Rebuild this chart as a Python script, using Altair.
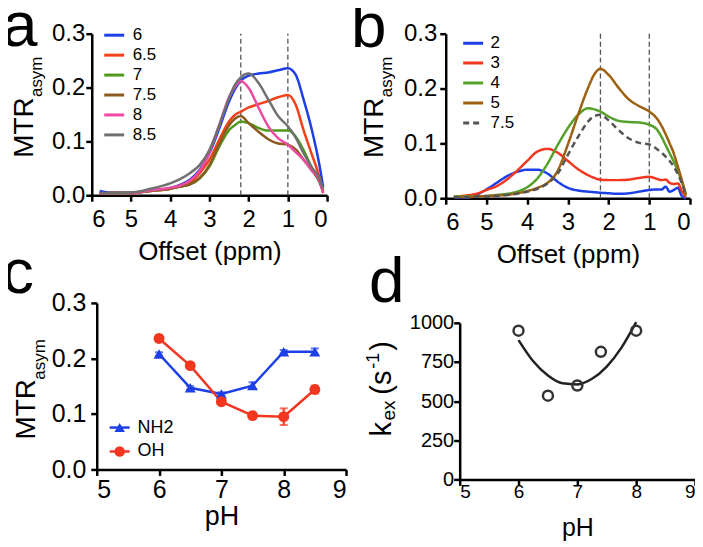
import altair as alt
import pandas as pd

FONT = "Liberation Sans"

# ---------------- Panel a ----------------
offset_a = [5.8, 5.5, 5.0, 4.5, 4.0, 3.75, 3.5, 3.25, 3.0, 2.75, 2.5, 2.35, 2.2, 2.0,
            1.75, 1.5, 1.25, 1.0, 0.8, 0.6, 0.4, 0.2, 0.1]
ph_a = ["6", "6.5", "7", "7.5", "8", "8.5"]
a_ph6 = [0.008, 0.005, 0.005, 0.009, 0.013, 0.019, 0.029, 0.047, 0.078, 0.124, 0.174, 0.197,
         0.213, 0.222, 0.226, 0.228, 0.232, 0.236, 0.224, 0.178, 0.125, 0.058, 0.015]
a_ph65 = [0.003, 0.004, 0.004, 0.008, 0.012, 0.016, 0.022, 0.041, 0.066, 0.103, 0.137, 0.149,
          0.155, 0.163, 0.169, 0.175, 0.182, 0.186, 0.168, 0.121, 0.078, 0.035, 0.004]
a_ph7 = [0.003, 0.004, 0.004, 0.008, 0.012, 0.016, 0.020, 0.031, 0.053, 0.090, 0.121, 0.130,
         0.137, 0.134, 0.125, 0.120, 0.120, 0.120, 0.109, 0.084, 0.053, 0.025, 0.008]
a_ph75 = [0.003, 0.004, 0.004, 0.008, 0.012, 0.016, 0.020, 0.032, 0.056, 0.095, 0.130, 0.142,
          0.147, 0.134, 0.118, 0.104, 0.096, 0.094, 0.085, 0.066, 0.047, 0.026, 0.006]
a_ph8 = [0.003, 0.004, 0.004, 0.009, 0.014, 0.018, 0.027, 0.045, 0.080, 0.130, 0.182, 0.201,
         0.212, 0.199, 0.163, 0.128, 0.106, 0.094, 0.080, 0.066, 0.047, 0.028, 0.004]
a_ph85 = [0.004, 0.004, 0.005, 0.012, 0.022, 0.030, 0.041, 0.056, 0.084, 0.130, 0.180, 0.205,
          0.219, 0.226, 0.209, 0.178, 0.147, 0.128, 0.107, 0.078, 0.053, 0.032, 0.012]
colors_a = ["#1c3fe6", "#f2411b", "#4f9a1c", "#8b5a1e", "#ee4aa3", "#707070"]

# ---------------- Panel b ----------------
offset_b = [5.8, 5.5, 5.25, 5.0, 4.75, 4.5, 4.25, 4.0, 3.75, 3.5, 3.25, 3.0, 2.75, 2.5, 2.35,
            2.2, 2.0, 1.75, 1.5, 1.25, 1.0, 0.8, 0.7, 0.6, 0.5, 0.4, 0.3, 0.2, 0.1]
ph_b = ["2", "3", "4", "5", "7.5"]
b_ph2 = [0.002, 0.001, 0.006, 0.016, 0.028, 0.040, 0.048, 0.052, 0.052, 0.045, 0.030, 0.019,
         0.014, 0.012, 0.011, 0.010, 0.009, 0.008, 0.009, 0.012, 0.015, 0.016, 0.016, 0.021,
         0.012, 0.015, 0.019, 0.004, 0.0]
b_ph3 = [0.003, 0.005, 0.008, 0.015, 0.022, 0.034, 0.050, 0.068, 0.085, 0.090, 0.083, 0.068,
         0.053, 0.042, 0.037, 0.034, 0.033, 0.033, 0.034, 0.037, 0.039, 0.035, 0.033, 0.034,
         0.028, 0.026, 0.027, 0.013, 0.002]
b_ph4 = [0.003, 0.003, 0.003, 0.004, 0.006, 0.008, 0.012, 0.020, 0.036, 0.063, 0.097, 0.128,
         0.152, 0.164, 0.162, 0.158, 0.149, 0.141, 0.139, 0.138, 0.134, 0.124, 0.112, 0.097,
         0.082, 0.067, 0.050, 0.030, 0.005]
b_ph5 = [0.002, 0.002, 0.003, 0.004, 0.005, 0.006, 0.009, 0.013, 0.019, 0.028, 0.050, 0.098,
         0.152, 0.202, 0.226, 0.236, 0.225, 0.201, 0.180, 0.168, 0.158, 0.144, 0.132, 0.117,
         0.100, 0.082, 0.058, 0.033, 0.006]
b_ph75 = [0.002, 0.002, 0.003, 0.003, 0.004, 0.006, 0.008, 0.012, 0.017, 0.027, 0.045, 0.079,
          0.112, 0.140, 0.150, 0.152, 0.142, 0.124, 0.109, 0.101, 0.098, 0.089, 0.083, 0.076,
          0.068, 0.058, 0.044, 0.027, 0.005]
colors_b = ["#1c3fe6", "#f2361f", "#55a02a", "#9b6010", "#555555"]
dashes_b = [[1, 0], [1, 0], [1, 0], [1, 0], [6, 4]]

marker_offsets = [2.2, 1.0]

# ---------------- Panel c ----------------
ph_c = [6, 6.5, 7, 7.5, 8, 8.5]
groups_c = ["NH2", "OH"]
nh2 = [0.208, 0.147, 0.136, 0.151, 0.212, 0.212]
nh2_err = [0.003, 0.003, 0.003, 0.006, 0.003, 0.006]
oh = [0.236, 0.187, 0.122, 0.097, 0.095, 0.144]
oh_err = [0.006, 0.004, 0.004, 0.004, 0.015, 0.007]
colors_c = ["#1c3fe6", "#f2361f"]
shapes_c = ["triangle-up", "circle"]

# ---------------- Panel d ----------------
ph_d = [6, 6.5, 7, 7.4, 8]
kex_d = [950, 535, 600, 815, 950]
fit_ph = [6.0, 6.25, 6.5, 6.75, 7.0, 7.25, 7.5, 7.75, 8.0]
fit_k = [890, 755, 664, 614, 607, 643, 721, 842, 1005]


def long_df(xs, names, series, xname):
    rows = []
    for n, vals in zip(names, series):
        for x, v in zip(xs, vals):
            rows.append({xname: x, "v": v, "pH": n})
    return pd.DataFrame(rows)


def txt(s, x, y, size, angle=0, align="left", baseline="alphabetic"):
    return alt.Chart(pd.DataFrame({"t": [s]})).mark_text(
        font=FONT, fontSize=size, angle=angle, align=align, baseline=baseline, color="black"
    ).encode(x=alt.value(x), y=alt.value(y), text=alt.Text("t:N"))


def indep(ch):
    return ch.resolve_scale(x="independent", y="independent", color="independent",
                            strokeDash="independent", shape="independent").resolve_legend(
        color="independent", strokeDash="independent", shape="independent")


# ======== chart a ========
df_a = long_df(offset_a, ph_a, [a_ph6, a_ph65, a_ph7, a_ph75, a_ph8, a_ph85], "offset")
xa = alt.X("offset:Q", scale=alt.Scale(domain=[6, 0]),
           axis=alt.Axis(values=[6, 5, 4, 3, 2, 1, 0], format="d", title="Offset (ppm)",
                         labelPadding=6, titlePadding=7))
ya = alt.Y("v:Q", scale=alt.Scale(domain=[0, 0.3]),
           axis=alt.Axis(values=[0, 0.1, 0.2, 0.3], format=".1f", title=None, labelPadding=1))
rules_a = alt.Chart(pd.DataFrame({"offset": marker_offsets})).mark_rule(
    strokeDash=[5, 3], color="#555555", strokeWidth=1.3
).encode(x=xa, y=alt.datum(0), y2=alt.datum(0.3))
lines_a = alt.Chart(df_a).mark_line(strokeWidth=2.5, interpolate="monotone").encode(
    x=xa, y=ya,
    color=alt.Color("pH:N", scale=alt.Scale(domain=ph_a, range=colors_a),
                    legend=alt.Legend(title=None, orient="none", legendX=11, legendY=-10,
                                      symbolType="stroke", symbolSize=400, symbolStrokeWidth=3,
                                      labelFontSize=17, labelFont=FONT, labelColor="black",
                                      labelOffset=7, padding=0, rowPadding=0)),
)
chart_a = alt.layer(
    rules_a, lines_a,
    txt("a", -90, 12, 64),
    txt("MTR", -58.5, 124.5, 28, angle=270),
    txt("asym", -50, 63.5, 17, angle=270),
).properties(width=236, height=162)

# ======== chart b ========
df_b = long_df(offset_b, ph_b, [b_ph2, b_ph3, b_ph4, b_ph5, b_ph75], "offset")
xb = alt.X("offset:Q", scale=alt.Scale(domain=[6, 0]),
           axis=alt.Axis(values=[6, 5, 4, 3, 2, 1, 0], format="d", title="Offset (ppm)",
                         labelPadding=6, titlePadding=7))
yb = alt.Y("v:Q", scale=alt.Scale(domain=[0, 0.3]),
           axis=alt.Axis(values=[0, 0.1, 0.2, 0.3], format=".1f", title=None, labelPadding=3))
leg_b = alt.Legend(title=None, orient="none", legendX=16, legendY=-2,
                   symbolType="stroke", symbolSize=400, symbolStrokeWidth=3,
                   labelFontSize=17, labelFont=FONT, labelColor="black",
                   labelOffset=6, padding=0, rowPadding=0)
rules_b = alt.Chart(pd.DataFrame({"offset": marker_offsets})).mark_rule(
    strokeDash=[5, 3], color="#555555", strokeWidth=1.3
).encode(x=xb, y=alt.datum(0), y2=alt.datum(0.3))
lines_b = alt.Chart(df_b).mark_line(strokeWidth=2.5, interpolate="monotone").encode(
    x=xb, y=yb,
    color=alt.Color("pH:N", scale=alt.Scale(domain=ph_b, range=colors_b), legend=leg_b),
    strokeDash=alt.StrokeDash("pH:N", scale=alt.Scale(domain=ph_b, range=dashes_b), legend=leg_b),
)
chart_b = alt.layer(
    rules_b, lines_b,
    txt("b", -95, 13.5, 64),
    txt("MTR", -63, 124.7, 28, angle=270),
    txt("asym", -54.3, 63.7, 17, angle=270),
).properties(width=245, height=165)

# ======== chart c ========
df_c = pd.DataFrame({
    "pH": ph_c * 2,
    "v": nh2 + oh,
    "lo": [v - e for v, e in zip(nh2, nh2_err)] + [v - e for v, e in zip(oh, oh_err)],
    "hi": [v + e for v, e in zip(nh2, nh2_err)] + [v + e for v, e in zip(oh, oh_err)],
    "g": [groups_c[0]] * len(ph_c) + [groups_c[1]] * len(ph_c),
})
xc = alt.X("pH:Q", scale=alt.Scale(domain=[5, 9], range=[5, 255]),
           axis=alt.Axis(values=[5, 6, 7, 8, 9], format="d", title="pH",
                         labelPadding=2, titlePadding=1, titleFontSize=27, labelFontSize=25))
yc = alt.Y("v:Q", scale=alt.Scale(domain=[0, 0.3]),
           axis=alt.Axis(values=[0, 0.1, 0.2, 0.3], format=".1f", title=None,
                         labelPadding=5, offset=-5, labelFontSize=25))
col_c = alt.Color("g:N", scale=alt.Scale(domain=groups_c, range=colors_c), legend=None)
base_c = alt.Chart(df_c)
err_c = base_c.mark_errorbar(ticks=True, size=8, thickness=2).encode(
    x=xc, y=alt.Y("lo:Q", scale=alt.Scale(domain=[0, 0.3])), y2="hi:Q", color=col_c)
line_c = base_c.mark_line(strokeWidth=2.5).encode(x=xc, y=yc, color=col_c)
pts_c = base_c.mark_point(filled=True, size=120, opacity=1).encode(
    x=xc, y=yc, color=col_c,
    shape=alt.Shape("g:N", scale=alt.Scale(domain=groups_c, range=shapes_c), legend=None))

leg_c = []
for i, (gname, colr, shp) in enumerate(zip(groups_c, colors_c, shapes_c)):
    yy = 125 + 24 * i
    leg_c.append(alt.Chart(pd.DataFrame({"g": [gname]})).mark_rule(color=colr, strokeWidth=2.5)
                 .encode(x=alt.value(18), x2=alt.value(38), y=alt.value(yy)))
    leg_c.append(alt.Chart(pd.DataFrame({"g": [gname]})).mark_point(
        shape=shp, filled=True, size=110, color=colr, opacity=1)
                 .encode(x=alt.value(28), y=alt.value(yy)))
    leg_c.append(txt(gname, 46, yy, 18, baseline="middle"))

chart_c = alt.layer(
    line_c, err_c, pts_c, *leg_c,
    txt("c", -90, -10, 64),
    txt("MTR", -57, 137, 28, angle=270),
    txt("asym", -47, 77, 17, angle=270),
).properties(width=255, height=167)

# ======== chart d ========
df_d = pd.DataFrame({"pH": ph_d, "k": kex_d})
df_fit = pd.DataFrame({"pH": fit_ph, "k": fit_k})
xd = alt.X("pH:Q", scale=alt.Scale(domain=[5, 9]),
           axis=alt.Axis(values=[5, 6, 7, 8, 9], format="d", title="pH",
                         labelFontSize=19, titleFontSize=25, labelPadding=-3, titlePadding=14))
yd = alt.Y("k:Q", scale=alt.Scale(domain=[0, 1000], range=[177, 20]),
           axis=alt.Axis(values=[0, 250, 500, 750, 1000], format="d", title=None,
                         labelFontSize=20, labelPadding=0))
fit_d = alt.Chart(df_fit).mark_line(color="#222222", strokeWidth=2.5, interpolate="monotone").encode(x=xd, y=yd)
pts_d = alt.Chart(df_d).mark_point(shape="circle", filled=False, size=100, strokeWidth=2.5,
                                   color="#333333", opacity=1).encode(x=xd, y=yd)
chart_d = alt.layer(
    fit_d, pts_d,
    txt("d", -91, -1, 64),
    txt("k", -69, 134, 29, angle=270),
    txt("ex", -65, 118, 19, angle=270),
    txt("(s", -69, 92, 29, angle=270),
    txt("-1", -81, 66, 18, angle=270),
    txt(")", -69, 48, 29, angle=270),
).properties(width=236, height=177)

row1 = indep(alt.hconcat(chart_a, chart_b, spacing=119, bounds="flush"))
row2 = indep(alt.hconcat(chart_c, chart_d, spacing=114, bounds="flush"))
chart = indep(alt.vconcat(row1, row2, spacing=270, bounds="flush")).properties(
    padding={"left": -6, "top": -14, "right": -2, "bottom": 0}
).configure_view(stroke=None).configure_axis(
    grid=False, domainColor="black", domainWidth=2.5, tickColor="black", tickWidth=2.5,
    tickSize=6, labelFont=FONT, labelColor="black", labelFontSize=24,
    titleFont=FONT, titleColor="black", titleFontSize=26, titleFontWeight="normal"
)

chart.save("out.html", embed_options={"renderer": "svg", "actions": False})
